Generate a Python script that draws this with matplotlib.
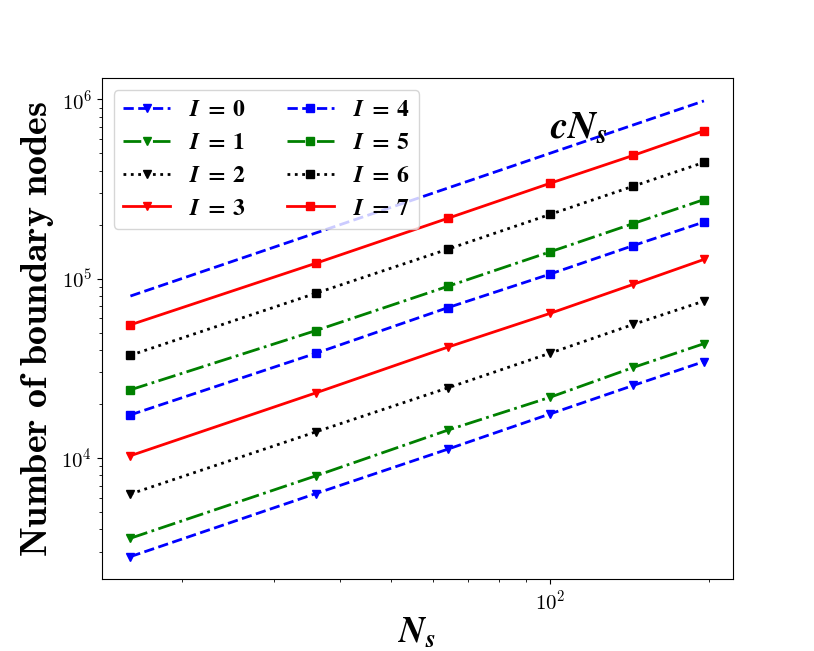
import matplotlib
matplotlib.use('Agg')
import matplotlib.pyplot as plt
from matplotlib.font_manager import FontProperties

plt.rcParams['mathtext.fontset'] = 'cm'
plt.rcParams['font.family'] = 'serif'
plt.rcParams['font.serif'] = ['cmr10', 'DejaVu Serif']
plt.rcParams['axes.formatter.use_mathtext'] = True

# number of subdomains
Ns = [16, 36, 64, 100, 144, 196]

# boundary nodes per level I
I0 = [2820, 6340, 11200, 17600, 25400, 34500]
I1 = [3570, 7960, 14300, 21800, 32000, 43400]
I2 = [6300, 14000, 24600, 38400, 55600, 75000]
I3 = [10300, 23100, 41500, 64000, 93000, 128000]
I4 = [17400, 38400, 68900, 106000, 153000, 207000]
I5 = [24000, 51400, 90600, 141000, 203000, 276000]
I6 = [37400, 83000, 146000, 228000, 328000, 445000]
I7 = [55300, 122000, 217000, 340000, 487000, 668000]

c = 5000
ref = [c * n for n in Ns]

levels = [I0, I1, I2, I3, I4, I5, I6, I7]
colors = ['blue', 'green', 'black', 'red']
styles = ['--', '-.', ':', '-']

fig, ax = plt.subplots(figsize=(8.14, 6.51), dpi=100)

for i, vals in enumerate(levels):
    marker = 'v' if i < 4 else 's'
    ax.loglog(Ns, vals, linestyle=styles[i % 4], color=colors[i % 4], lw=2,
              marker=marker,
              label=r'$\mathbfit{I}\;\mathbf{=}\;\mathbf{%d}$' % i)

ax.loglog(Ns, ref, '--', color='blue', lw=2)
ax.text(100, 6.1e5, r'$\mathbfit{cN_s}$', fontsize=28, math_fontfamily='stix')

ax.set_xlabel(r'$\mathbfit{N_s}$', fontsize=26, math_fontfamily='stix',
              labelpad=2)
ax.set_ylabel(r'$\mathbf{Number\ of\ boundary\ nodes}$', fontsize=27.5)
ax.tick_params(labelsize=15)
ax.legend(loc='upper left', ncol=2, columnspacing=1.7, labelspacing=0.45,
          prop=FontProperties(size=17, math_fontfamily='stix'))

plt.savefig('out.png', dpi=100)
